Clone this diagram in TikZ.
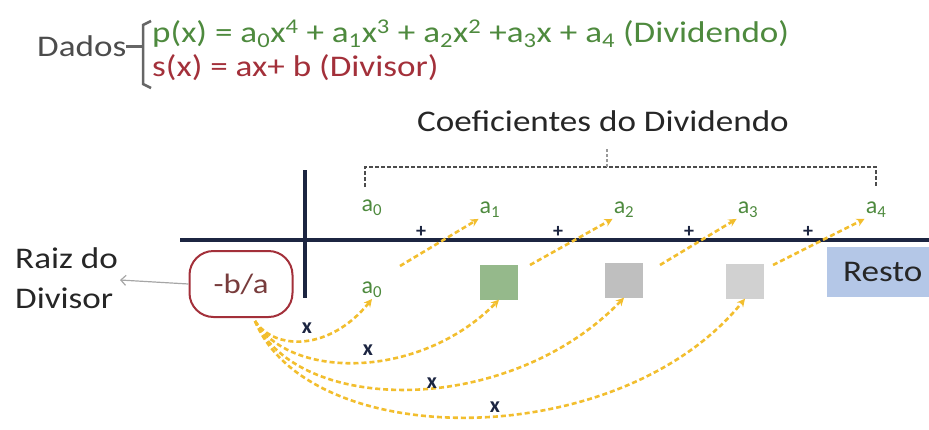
\documentclass[tikz,border=0pt]{standalone}
\usepackage{fontspec}
\usepackage{graphicx}
\setmainfont{Carlito}
\usetikzlibrary{arrows.meta}
\definecolor{navy}{HTML}{1C2541}
\definecolor{grn}{HTML}{4E8A3E}
\definecolor{dred}{HTML}{A3303A}
\definecolor{ylw}{HTML}{F2BE2E}
\definecolor{txt}{HTML}{262626}
\definecolor{restoblue}{RGB}{180,199,231}
\newcommand\widetxt[1]{\scalebox{1.17}[1]{#1}}
\tikzset{
  coef/.style={text=grn,font=\fontsize{24}{26}\selectfont,inner sep=1pt},
  plus/.style={text=navy,font=\fontsize{20}{20}\selectfont\bfseries,inner sep=0pt},
  xlab/.style={text=navy,font=\fontsize{22}{22}\selectfont\bfseries,inner sep=0pt},
  yarrow/.style={draw=ylw,line width=2.6pt,dash pattern=on 5pt off 3pt,-{Stealth[length=8pt,width=8pt]}},
  sq/.style={minimum width=38pt,minimum height=35pt,inner sep=0pt},
  lbl/.style={text=txt,font=\fontsize{30}{34}\selectfont,inner sep=0pt,anchor=west},
}
\begin{document}
\begin{tikzpicture}[x=1pt,y=-1pt]
\useasboundingbox (0,0) rectangle (929,429);
% header
\node[lbl,text=black!70] (dados) at (37,46) {\widetxt{Dados}};
\draw[black!60,line width=3pt] (dados.east) -- (143,46);
\draw[black!60,line width=2.5pt] (151,21) -- (143,25) -- (143,84) -- (151,88);
\node[lbl,text=grn] (px) at (152,34) {\widetxt{p(x) = a\textsubscript{0}x\textsuperscript{4} + a\textsubscript{1}x\textsuperscript{3} + a\textsubscript{2}x\textsuperscript{2} +a\textsubscript{3}x + a\textsubscript{4} (Dividendo)}};
\node[lbl,text=dred] (sx) at (152,68) {\widetxt{s(x) = ax+ b (Divisor)}};
% coefficient title and brace
\node[lbl,anchor=center] (coefs) at (603,121) {\widetxt{Coeficientes do Dividendo}};
\coordinate (bl) at (365,187);
\coordinate (br) at (876,187);
\coordinate (bm) at (607,148);
\draw[black!70,line width=1.5pt,dash pattern=on 4pt off 2pt] (bl) -- (365,167) -- (876,167) -- (br);
\draw[black!40,line width=1.2pt,dash pattern=on 3pt off 2pt] (607,167) -- (bm);
% axes
\coordinate (axL) at (180,240);
\coordinate (axR) at (929,240);
\coordinate (vT) at (305,170);
\coordinate (vB) at (305,298);
\draw[navy,line width=4.5pt] (axL) -- (axR);
\draw[navy,line width=4.5pt] (vT) -- (vB);
% coefficients above
\node[coef] (a0) at (372,208) {a\textsubscript{0}};
\node[coef] (a1) at (490,210) {a\textsubscript{1}};
\node[coef] (a2) at (624,210) {a\textsubscript{2}};
\node[coef] (a3) at (748,210) {a\textsubscript{3}};
\node[coef] (a4) at (876,210) {a\textsubscript{4}};
% plus signs
\node[plus] (p1) at (421,232) {+};
\node[plus] (p2) at (558,232) {+};
\node[plus] (p3) at (689,232) {+};
\node[plus] (p4) at (808,232) {+};
% bottom row
\node[coef] (b0) at (372,290) {a\textsubscript{0}};
\node[sq,fill=grn!60!white] (s1) at (499,282) {};
\node[sq,fill=black!25] (s2) at (624,280) {};
\node[sq,fill=black!18] (s3) at (745,281) {};
\node[fill=restoblue,minimum width=102pt,minimum height=50pt,inner sep=0pt,anchor=north west] (resto) at (827,247) {};
\node[lbl] at (843,272) {\widetxt{Resto}};
% diagonal arrows
\coordinate (d1) at (400,266);
\coordinate (d2) at (530,265);
\coordinate (d3) at (660,265);
\coordinate (d4) at (773,265);
\draw[yarrow] (d1) -- (a1.south west);
\draw[yarrow] (d2) -- (a2.south west);
\draw[yarrow] (d3) -- (a3.south west);
\draw[yarrow] (d4) -- (a4.south west);
% root of divisor
\node[draw=dred,line width=2pt,rounded corners=24pt,minimum width=103pt,minimum height=66pt,inner sep=0pt,text={rgb,255:red,120;green,60;blue,60},font=\fontsize{28}{28}\selectfont] (root) at (241,284) {\widetxt{-b/a}};
\node[lbl] (raiz) at (15,258) {\widetxt{Raiz do}};
\node[lbl] (divs) at (15,298) {\widetxt{Divisor}};
\coordinate (rarr) at (120,280);
\draw[black!35,line width=1.2pt,-{Straight Barb[length=5pt]}] (root.west) -- (rarr);
% curved arrows
\coordinate (c0) at (255,321);
\draw[yarrow] (c0) .. controls (275,351) and (330,351) .. (b0.south);
\draw[yarrow] (c0) .. controls (290,380) and (420,380) .. (s1.south);
\draw[yarrow] (c0) .. controls (300,416) and (510,416) .. (s2.south);
\draw[yarrow] (c0) .. controls (310,453) and (620,453) .. (s3.south);
% x labels
\node[xlab] (x1) at (307,328) {x};
\node[xlab] (x2) at (368,350) {x};
\node[xlab] (x3) at (432,383) {x};
\node[xlab] (x4) at (495,407) {x};
\end{tikzpicture}
\end{document}
